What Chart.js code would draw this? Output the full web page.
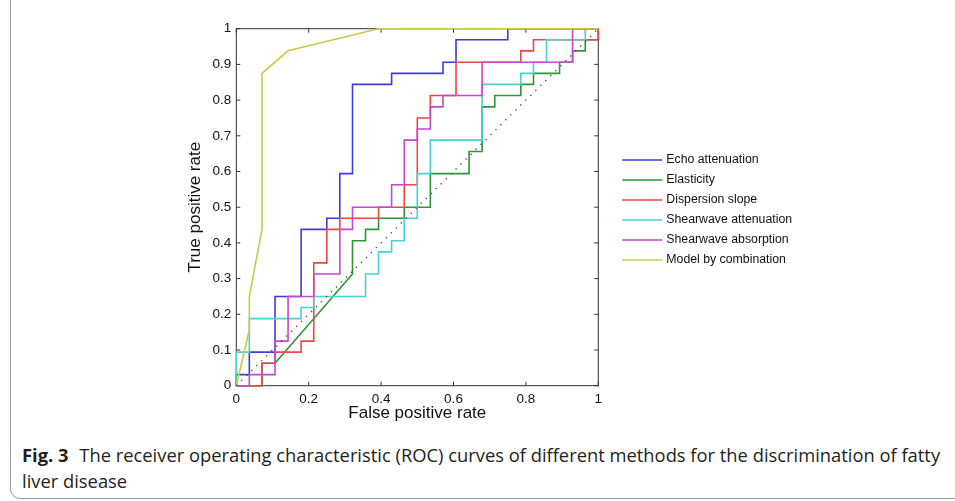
<!DOCTYPE html>
<html>

<head>
  <meta charset="utf-8">
  <meta name="viewport" content="width=device-width">
  <title>ROC curves</title>
  <style>
    body { margin: 0; background: #fff; }
    #moldura { position: absolute; left: 10px; top: -20px; width: 960px; height: 519px; border: 1px solid #9a9a9a; border-radius: 10px; box-sizing: border-box; }
    #caixa { position: absolute; left: 0; top: 0; width: 955px; height: 440px; }
    #legenda { position: absolute; left: 22px; top: 442px; width: 930px; font-family: 'Open Sans', sans-serif; font-size: 18.35px; line-height: 26px; color: #231f20; }
    #legenda b { font-weight: 700; margin-right: 6px; }
  </style>
</head>

<body>
  <div id="moldura"></div>
  <div id="caixa"><canvas id="graficoRoc"></canvas></div>
  <div id="legenda"><b>Fig. 3</b> The receiver operating characteristic (ROC) curves of different methods for the discrimination of fatty liver disease</div>

  <script src="https://cdn.jsdelivr.net/npm/chart.js"></script>
  <script>
    // series names (legend order)
    const nomes = ['Echo attenuation', 'Elasticity', 'Dispersion slope', 'Shearwave attenuation', 'Shearwave absorption', 'Model by combination'];

    // false positive rate / true positive rate of each curve
    const echoX = [0, 0, 0.036, 0.036, 0.107, 0.107, 0.179, 0.179, 0.25, 0.25, 0.286, 0.286, 0.321, 0.321, 0.429, 0.429, 0.571, 0.571, 0.607, 0.607, 0.75, 0.75, 1];
    const echoY = [0, 0.031, 0.031, 0.094, 0.094, 0.25, 0.25, 0.438, 0.438, 0.469, 0.469, 0.594, 0.594, 0.844, 0.844, 0.875, 0.875, 0.906, 0.906, 0.969, 0.969, 1, 1];

    const elastX = [0, 0.071, 0.071, 0.107, 0.321, 0.321, 0.357, 0.357, 0.393, 0.393, 0.464, 0.464, 0.536, 0.536, 0.643, 0.643, 0.679, 0.679, 0.714, 0.714, 0.786, 0.786, 0.821, 0.821, 0.893, 0.893, 0.929, 0.929, 0.964, 0.964, 1, 1];
    const elastY = [0, 0, 0.063, 0.063, 0.313, 0.406, 0.406, 0.438, 0.438, 0.469, 0.469, 0.5, 0.5, 0.594, 0.594, 0.656, 0.656, 0.781, 0.781, 0.813, 0.813, 0.844, 0.844, 0.875, 0.875, 0.906, 0.906, 0.938, 0.938, 0.969, 0.969, 1];

    const dispX = [0, 0.071, 0.071, 0.107, 0.107, 0.179, 0.179, 0.214, 0.214, 0.25, 0.25, 0.286, 0.286, 0.393, 0.393, 0.464, 0.464, 0.5, 0.5, 0.536, 0.536, 0.607, 0.607, 0.786, 0.786, 0.821, 0.821, 1, 1];
    const dispY = [0, 0, 0.063, 0.063, 0.094, 0.094, 0.125, 0.125, 0.344, 0.344, 0.438, 0.438, 0.469, 0.469, 0.5, 0.5, 0.563, 0.563, 0.75, 0.75, 0.813, 0.813, 0.906, 0.906, 0.938, 0.938, 0.969, 0.969, 1];

    const atenX = [0, 0, 0.036, 0.036, 0.179, 0.179, 0.214, 0.214, 0.357, 0.357, 0.393, 0.393, 0.429, 0.429, 0.464, 0.464, 0.5, 0.5, 0.536, 0.536, 0.679, 0.679, 0.786, 0.786, 0.821, 0.821, 0.857, 0.857, 0.964, 0.964, 1];
    const atenY = [0, 0.094, 0.094, 0.188, 0.188, 0.219, 0.219, 0.25, 0.25, 0.313, 0.313, 0.375, 0.375, 0.406, 0.406, 0.469, 0.469, 0.594, 0.594, 0.688, 0.688, 0.844, 0.844, 0.875, 0.875, 0.906, 0.906, 0.969, 0.969, 1, 1];

    const absX = [0, 0.036, 0.036, 0.107, 0.107, 0.143, 0.143, 0.214, 0.214, 0.286, 0.286, 0.321, 0.321, 0.429, 0.429, 0.464, 0.464, 0.5, 0.5, 0.536, 0.536, 0.571, 0.571, 0.679, 0.679, 0.929, 0.929, 1];
    const absY = [0, 0, 0.031, 0.031, 0.125, 0.125, 0.25, 0.25, 0.313, 0.313, 0.438, 0.438, 0.5, 0.5, 0.563, 0.563, 0.688, 0.688, 0.719, 0.719, 0.781, 0.781, 0.813, 0.813, 0.906, 0.906, 1, 1];

    const combX = [0, 0.036, 0.036, 0.071, 0.071, 0.143, 0.393, 1];
    const combY = [0, 0.156, 0.25, 0.438, 0.875, 0.938, 1, 1];

    // chance line
    const acasoX = [0, 1];
    const acasoY = [0, 1];

    const xTicks = [0, 0.2, 0.4, 0.6, 0.8, 1];
    const yTicks = [0, 0.1, 0.2, 0.3, 0.4, 0.5, 0.6, 0.7, 0.8, 0.9, 1];

    const cores = ['#3c3ce0', '#2f9632', '#f04646', '#48d2d2', '#c846d2', '#cdc846'];
    const fonte = "'Liberation Sans', Arial, sans-serif";

    function pontos(xs, ys) {
      return xs.map((x, i) => ({ x: x, y: ys[i] }));
    }

    const series = [[echoX, echoY], [elastX, elastY], [dispX, dispY], [atenX, atenY], [absX, absY], [combX, combY]];

    const datasets = series.map(([xs, ys], i) => ({
      label: nomes[i],
      data: pontos(xs, ys),
      borderColor: cores[i],
      borderWidth: 1.6,
      order: 10 - i // later curves on top, like matlab
    }));
    datasets.push({
      label: '',
      data: pontos(acasoX, acasoY),
      borderColor: '#555',
      borderWidth: 1.4,
      borderDash: [1.4, 5.6],
      order: 0
    });

    // box, inward ticks and legend
    const moldura = {
      id: 'moldura',
      beforeDatasetsDraw(chart) {
        const { ctx, chartArea: a, scales: { x, y } } = chart;
        ctx.save();
        ctx.strokeStyle = '#333';
        ctx.lineWidth = 1;
        ctx.strokeRect(a.left, a.top, a.right - a.left, a.bottom - a.top);
        ctx.beginPath();
        xTicks.forEach((v) => {
          const px = x.getPixelForValue(v);
          ctx.moveTo(px, a.bottom); ctx.lineTo(px, a.bottom - 4);
          ctx.moveTo(px, a.top); ctx.lineTo(px, a.top + 4);
        });
        yTicks.forEach((v) => {
          const py = y.getPixelForValue(v);
          ctx.moveTo(a.left, py); ctx.lineTo(a.left + 4, py);
          ctx.moveTo(a.right, py); ctx.lineTo(a.right - 4, py);
        });
        ctx.stroke();
        ctx.restore();
      },
      afterDraw(chart) {
        const ctx = chart.ctx;
        const x0 = chart.chartArea.right + 24;
        ctx.save();
        ctx.font = '12.3px ' + fonte;
        ctx.textBaseline = 'middle';
        ctx.fillStyle = '#111';
        nomes.forEach((nome, i) => {
          const yy = 160 + i * 20;
          ctx.strokeStyle = cores[i];
          ctx.lineWidth = 1.6;
          ctx.beginPath();
          ctx.moveTo(x0, yy); ctx.lineTo(x0 + 40, yy);
          ctx.stroke();
          ctx.fillText(nome, x0 + 44, yy);
        });
        ctx.restore();
      }
    };

    function montarGrafico(elementId) {
      const ctx = document.getElementById(elementId);
      new Chart(ctx, {
        type: 'scatter',
        data: { datasets: datasets },
        options: {
          responsive: true,
          maintainAspectRatio: false,
          animation: false,
          showLine: true,
          clip: false,
          elements: { point: { radius: 0, hoverRadius: 0 }, line: { tension: 0, fill: false } },
          layout: { padding: { left: 180, right: 356.7, top: 28.7, bottom: 0 } },
          plugins: { legend: { display: false }, tooltip: { enabled: false } },
          scales: {
            x: {
              type: 'linear', min: 0, max: 1,
              afterFit: (s) => { s.height = 54.3; },
              afterBuildTicks: (s) => { s.ticks = xTicks.map((v) => ({ value: v })); },
              grid: { display: false, drawTicks: false },
              border: { display: false },
              ticks: { padding: 5, autoSkip: false, maxRotation: 0, color: '#111', font: { family: fonte, size: 13.5 }, callback: (v) => String(+v.toFixed(1)) },
              title: { display: true, text: 'False positive rate', color: '#111', font: { family: fonte, size: 17 }, padding: { top: 0, bottom: 16 } }
            },
            y: {
              type: 'linear', min: 0, max: 1,
              afterFit: (s) => { s.width = 56.3; },
              afterBuildTicks: (s) => { s.ticks = yTicks.map((v) => ({ value: v })); },
              grid: { display: false, drawTicks: false },
              border: { display: false },
              ticks: { padding: 5, autoSkip: false, color: '#111', font: { family: fonte, size: 13.5 }, callback: (v) => String(+v.toFixed(1)) },
              title: { display: true, text: 'True positive rate', color: '#111', font: { family: fonte, size: 17 }, padding: { top: 5, bottom: 0 } }
            }
          }
        },
        plugins: [moldura]
      });
    }

    montarGrafico('graficoRoc');
  </script>
</body>
</html>
